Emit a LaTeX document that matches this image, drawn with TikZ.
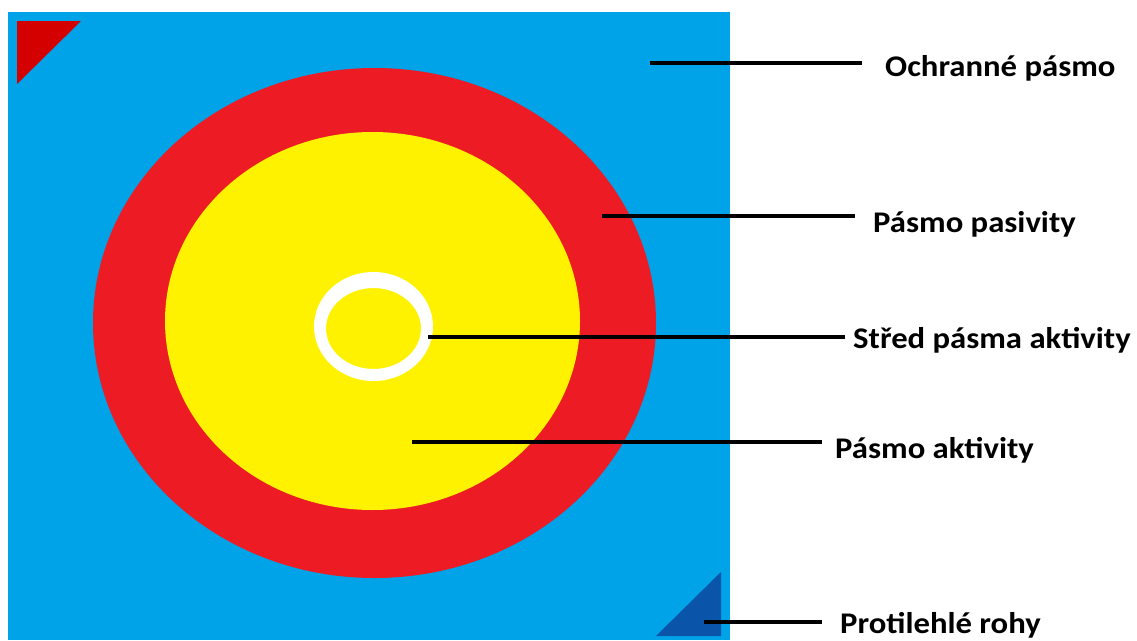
\documentclass[tikz,border=0pt]{standalone}
\usepackage{fontspec}
\setmainfont{Carlito}
\newfontfamily\widelabel[FakeStretch=1.09]{Carlito}
\usetikzlibrary{positioning}
\definecolor{matblue}{HTML}{00A2E8}
\definecolor{zonered}{HTML}{ED1C24}
\definecolor{zoneyellow}{HTML}{FFF200}
\definecolor{cornerred}{HTML}{D40000}
\definecolor{cornerblue}{HTML}{0A54AA}

\begin{document}
\begin{tikzpicture}[
    x=1pt, y=-1pt,
    % -- shared styles --
    leader/.style={draw=black, line width=4pt},
    zone label/.style={anchor=base west, inner sep=0pt,
        font=\widelabel\fontsize{30}{34}\selectfont\bfseries, text=black},
]

% ====================================================================
%  DIMENSIONS (pixel coords, y downwards)
% ====================================================================
\def\cx{374.5} \def\cy{323}       % centre of the zones
\def\matL{8}   \def\matR{730}  \def\matT{12}  \def\matB{640}

\useasboundingbox (0,0) rectangle (1137,640);

% ====================================================================
%  MAT + ZONES
% ====================================================================
\fill[matblue] (\matL,\matT) rectangle (\matR,\matB);
\fill[cornerred] (17,21) -- (81,21) -- (17,84) -- cycle;
\fill[cornerblue] (721,572) -- (721,636) -- (656,636) -- cycle;

\fill[zonered] (\cx,\cy) ellipse [x radius=281.5, y radius=255];
\fill[zoneyellow] (372.5,321) ellipse [x radius=207.5, y radius=189];
\fill[white, even odd rule] (373.5,326.5) ellipse [x radius=59.5, y radius=54.5]
    (373.5,328.5) ellipse [x radius=47.5, y radius=40.5];

% ====================================================================
%  LABELS
% ====================================================================
\node[zone label] (ochr) at (885,76.5)  {Ochranné pásmo};
\node[zone label] (pasiv) at (873,232) {Pásmo pasivity};
\node[zone label] (stred) at (853,348) {Střed pásma aktivity};
\node[zone label] (aktiv) at (835,458) {Pásmo aktivity};
\node[zone label] (rohy) at (840,633) {Protilehlé rohy};

% ====================================================================
%  LEADER LINES
% ====================================================================
\coordinate (ochrA) at (650,63);  \coordinate (ochrB) at (862,63);
\coordinate (pasivA) at (602,216); \coordinate (pasivB) at (855,216);
\coordinate (stredA) at (428,337); \coordinate (stredB) at (845,337);
\coordinate (aktivA) at (412,442); \coordinate (aktivB) at (822,442);
\coordinate (rohyA) at (704,622);  \coordinate (rohyB) at (822,622);

\draw[leader] (ochrA) -- (ochrB);
\draw[leader] (pasivA) -- (pasivB);
\draw[leader] (stredA) -- (stredB);
\draw[leader] (aktivA) -- (aktivB);
\draw[leader] (rohyA) -- (rohyB);

\end{tikzpicture}
\end{document}
